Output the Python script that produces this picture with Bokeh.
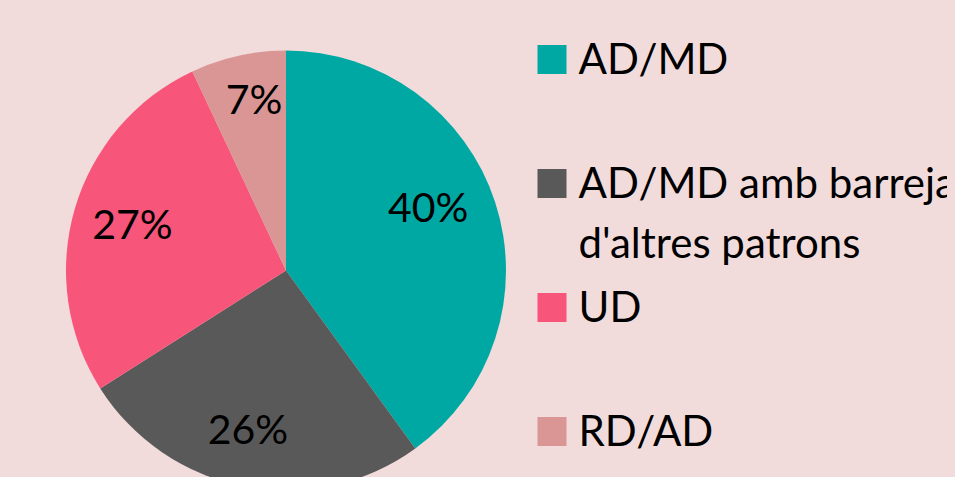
import math
from bokeh.plotting import figure
from bokeh.models import ColumnDataSource, Range1d, GlobalInlineStyleSheet
from bokeh.core.properties import value
from bokeh.embed import file_html
from bokeh.resources import INLINE

# ---- data ----
categories = ["AD/MD", "AD/MD amb barreja\nd'altres patrons", "UD", "RD/AD"]
shares = [40, 26, 27, 7]
pct_labels = ["40%", "26%", "27%", "7%"]
colors = ["#00a8a3", "#595959", "#f7557a", "#d99694"]

# ---- layout (not data) ----
label_nudge = [(-10, -13), (-8, 3), (0, 0), (3, -14)]  # screen px tweaks, Excel "best fit" look

BG = "#f2dcdb"
FONT = "Lato"
W, H = 947, 469
OFF = 8  # page margin

p = figure(width=W, height=H, output_backend="svg", toolbar_location=None,
           x_axis_type=None, y_axis_type=None, min_border=0,
           x_range=Range1d(OFF, OFF + W), y_range=Range1d(0, H))
p.background_fill_color = BG
p.border_fill_color = BG
p.outline_line_color = None
p.grid.visible = False
p.stylesheets = [GlobalInlineStyleSheet(css="html{background:%s;margin:0;padding:0;} body{background:%s;margin:8px;overflow:hidden;}" % (BG, BG))]

def sy(y_screen):
    return OFF + H - y_screen

# ---- pie ----
cx, cy, R = 285.5, sy(270), 220
total = float(sum(shares))
cum = 0.0
starts, ends, lx, ly = [], [], [], []
for s, (nx, ny) in zip(shares, label_nudge):
    a0 = cum / total
    cum += s
    a1 = cum / total
    starts.append(math.pi / 2 - 2 * math.pi * a1)
    ends.append(math.pi / 2 - 2 * math.pi * a0)
    mid = 2 * math.pi * (a0 + a1) / 2
    lr = 160
    lx.append(cx + lr * math.sin(mid) + nx)
    ly.append(cy + lr * math.cos(mid) - ny + 2)

src = ColumnDataSource(dict(start=starts, end=ends, color=colors, lx=lx, ly=ly, lab=pct_labels))
p.wedge(x=cx, y=cy, radius=R, start_angle="start", end_angle="end", direction="anticlock",
        fill_color="color", line_color=None, source=src)
p.text(x="lx", y="ly", text="lab", source=src, text_align="center", text_baseline="middle",
       text_font=value(FONT), text_font_size="41px", text_color="#000000")

# ---- legend ----
sq_x, sq_size = 551.5, 29
txt_x = 578
for i, (cat, col) in enumerate(zip(categories, colors)):
    yc = 59 + 124 * i
    p.rect(x=sq_x, y=sy(yc), width=sq_size, height=sq_size, fill_color=col, line_color=None)
    for j, line in enumerate(cat.split("\n")):
        p.text(x=[txt_x], y=[sy(yc - 2 + 60 * j)], text=[line], text_align="left",
               text_baseline="middle", text_font=value(FONT), text_font_size="42px",
               text_color="#000000")

open("out.html", "w").write(file_html(p, INLINE))
